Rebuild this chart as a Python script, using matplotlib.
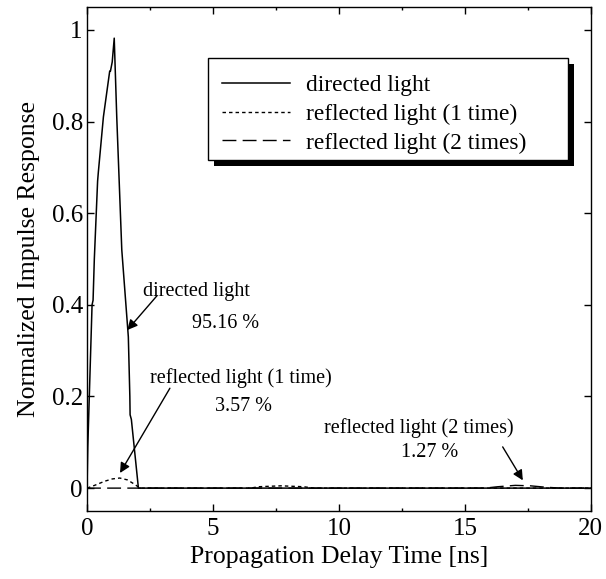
import matplotlib.pyplot as plt
from matplotlib.patches import Rectangle

plt.rcParams['font.family'] = ['Liberation Serif', 'DejaVu Serif']

# directed light
t_dir = [0.0, 0.03, 0.2, 0.24, 0.29, 0.42, 0.45, 0.65, 0.8, 0.9, 0.93, 1.0, 1.08,
         1.18, 1.38, 1.64, 1.7, 1.71, 1.76, 2.04, 2.2, 20.0]
h_dir = [0.0, 0.09, 0.40, 0.41, 0.50, 0.67, 0.69, 0.81, 0.87, 0.91, 0.91, 0.93, 0.982,
         0.81, 0.52, 0.33, 0.20, 0.16, 0.15, 0.0, 0.0, 0.0]

# reflected light (1 time)
t_ref1 = [0.0, 0.3, 0.7, 1.0, 1.3, 1.6, 1.9, 2.1, 6.5, 6.8, 7.7, 8.6, 9.0, 20.0]
h_ref1 = [0.0, 0.006, 0.015, 0.020, 0.022, 0.018, 0.008, 0.0, 0.0, 0.003, 0.005, 0.003, 0.0, 0.0]

# reflected light (2 times)
t_ref2 = [0.0, 15.8, 16.3, 17.0, 17.6, 18.2, 18.8, 20.0]
h_ref2 = [0.0, 0.0, 0.003, 0.006, 0.005, 0.002, 0.0, 0.0]

fig = plt.figure(figsize=(6.06, 5.79), dpi=100)
ax = fig.add_axes([0.1436, 0.1174, 0.8314, 0.8705])

ax.plot(t_dir, h_dir, color='black', lw=1.1, label='directed light')
ax.plot(t_ref1, h_ref1, color='black', lw=1.0, dashes=(2.5, 2.2), label='reflected light (1 time)')
ax.plot(t_ref2, h_ref2, color='black', lw=1.0, dashes=(10, 4.5), label='reflected light (2 times)')

ax.set_xlim(0, 20)
ax.set_ylim(-0.05, 1.05)
ax.set_xticks([0, 5, 10, 15, 20])
ax.set_xticks([2.5, 7.5, 12.5, 17.5], minor=True)
ax.set_yticks([0, 0.2, 0.4, 0.6, 0.8, 1.0])
ax.set_yticklabels(['0', '0.2', '0.4', '0.6', '0.8', '1'])
ax.tick_params(which='both', direction='in', top=True, right=True, labelsize=18, width=1)
ax.tick_params(axis='y', pad=3)
ax.tick_params(axis='x', pad=5)
ax.tick_params(which='major', length=5)
ax.tick_params(which='minor', length=2.5)
for s in ax.spines.values():
    s.set_linewidth(1.0)

ax.set_xlabel('Propagation Delay Time [ns]', fontsize=18.5, labelpad=4)
ax.set_ylabel('Normalized Impulse Response', fontsize=18.5, labelpad=8)

arrow = dict(arrowstyle='-|>', color='black', lw=1.0, mutation_scale=15, shrinkA=0, shrinkB=0)
ax.annotate('', xy=(1.6, 0.345), xytext=(2.78, 0.42), arrowprops=arrow)
ax.text(4.35, 0.430, 'directed light', fontsize=14.5, ha='center', va='center')
ax.text(5.5, 0.360, '95.16 %', fontsize=14.5, ha='center', va='center')

ax.annotate('', xy=(1.31, 0.033), xytext=(3.29, 0.218), arrowprops=arrow)
ax.text(6.1, 0.240, 'reflected light (1 time)', fontsize=14.5, ha='center', va='center')
ax.text(6.2, 0.178, '3.57 %', fontsize=14.5, ha='center', va='center')

ax.annotate('', xy=(17.3, 0.017), xytext=(16.5, 0.09), arrowprops=arrow)
ax.text(13.17, 0.131, 'reflected light (2 times)', fontsize=14.5, ha='center', va='center')
ax.text(13.6, 0.078, '1.27 %', fontsize=14.5, ha='center', va='center')

# legend entries without frame; box and shadow drawn separately
leg = ax.legend(loc='upper left', bbox_to_anchor=(0.268, 0.865), fontsize=16.8,
                frameon=False, handlelength=2.9, handletextpad=0.7, labelspacing=0.31,
                borderpad=0, borderaxespad=0)
leg.set_zorder(7)

box_x0, box_x1 = 0.240, 0.954
box_y0, box_y1 = 0.696, 0.899
sh = 6 / 504
ax.add_patch(Rectangle((box_x0 + sh, box_y0 - sh), box_x1 - box_x0, box_y1 - box_y0,
                       transform=ax.transAxes, facecolor='black', edgecolor='none', zorder=5))
ax.add_patch(Rectangle((box_x0, box_y0), box_x1 - box_x0, box_y1 - box_y0,
                       transform=ax.transAxes, facecolor='white', edgecolor='black', lw=1.0, zorder=6))

fig.savefig('out.png', dpi=100)
